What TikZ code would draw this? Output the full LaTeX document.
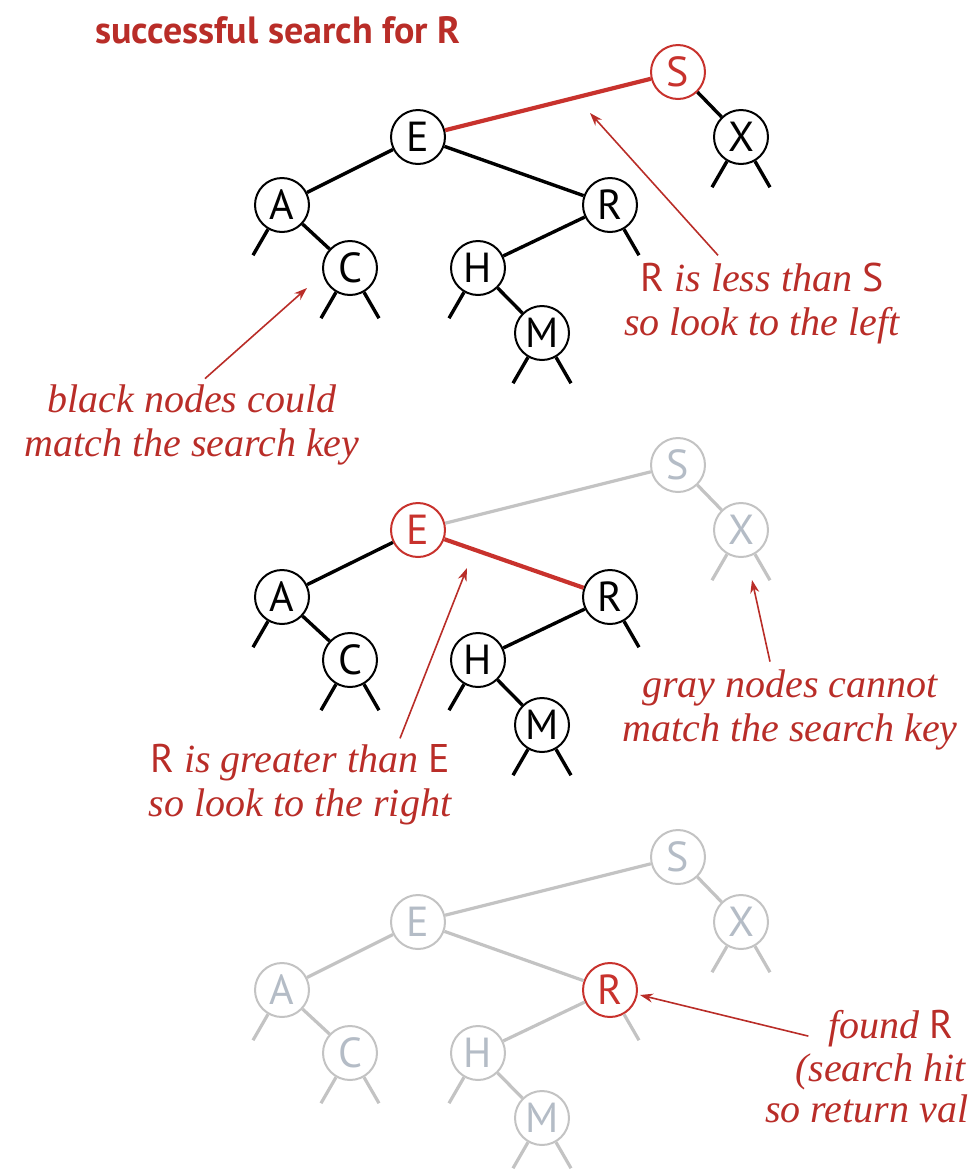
\documentclass[tikz,border=0pt]{standalone}
\usepackage{fontspec}
\newfontfamily\nodef{PT Sans}
\newfontfamily\annf{Liberation Serif}
\usetikzlibrary{arrows.meta,calc}
\definecolor{rd}{RGB}{185,45,40}
\definecolor{rdn}{RGB}{200,50,45}
\definecolor{gy}{RGB}{195,195,195}
\definecolor{gyt}{RGB}{180,188,198}
\newcommand\keyL[1]{{\nodef\upshape #1}}
\begin{document}
\begin{tikzpicture}[x=1pt,y=1pt,
 bn/.style={circle,draw=black,line width=2pt,fill=white,minimum size=54pt,inner sep=0pt,font=\nodef\fontsize{42}{42}\selectfont,text=black},
 rn/.style={bn,draw=rdn,text=rdn},
 gn/.style={bn,draw=gy,text=gyt},
 be/.style={line width=3.4pt,black},
 re/.style={line width=4.2pt,rdn},
 ge/.style={line width=3.2pt,gy},
 arr/.style={rd,line width=1.6pt,-{Stealth[length=13pt,width=9pt]}},
 anno/.style={text=rd,font=\annf\itshape\fontsize{40}{44}\selectfont,align=center,inner sep=0pt},
]
\useasboundingbox (0,0) rectangle (971,-1176);
% title
\node[text=rd,font=\nodef\bfseries\fontsize{38}{38}\selectfont,anchor=west,inner sep=0pt] (title) at (95,-30) {successful search for R};

% ---------- tree 1
\node[rn] (S1) at (678,-72) {S};
\node[bn] (X1) at (741,-137) {X};
\node[bn] (E1) at (418,-137) {E};
\node[bn] (A1) at (282,-205) {A};
\node[bn] (R1) at (610,-205) {R};
\node[bn] (C1) at (350,-268) {C};
\node[bn] (H1) at (478,-268) {H};
\node[bn] (M1) at (542,-333) {M};
\draw[re] (S1) -- (E1);
\draw[be] (S1) -- (X1);
\draw[be] (E1) -- (A1);
\draw[be] (E1) -- (R1);
\draw[be] (A1) -- (C1);
\draw[be] (R1) -- (H1);
\draw[be] (H1) -- (M1);
\draw[be] (X1.-120) -- ++(-120:30);
\draw[be] (X1.-60) -- ++(-60:30);
\draw[be] (A1.-120) -- ++(-120:30);
\draw[be] (C1.-120) -- ++(-120:30);
\draw[be] (C1.-60) -- ++(-60:30);
\draw[be] (R1.-60) -- ++(-60:30);
\draw[be] (H1.-120) -- ++(-120:30);
\draw[be] (M1.-120) -- ++(-120:30);
\draw[be] (M1.-60) -- ++(-60:30);

% ---------- tree 2
\node[gn] (S2) at (678,-465) {S};
\node[gn] (X2) at (741,-530) {X};
\node[rn] (E2) at (418,-530) {E};
\node[bn] (A2) at (282,-597) {A};
\node[bn] (R2) at (610,-597) {R};
\node[bn] (C2) at (350,-660) {C};
\node[bn] (H2) at (478,-660) {H};
\node[bn] (M2) at (542,-725) {M};
\draw[ge] (S2) -- (E2);
\draw[ge] (S2) -- (X2);
\draw[be] (E2) -- (A2);
\draw[re] (E2) -- (R2);
\draw[be] (A2) -- (C2);
\draw[be] (R2) -- (H2);
\draw[be] (H2) -- (M2);
\draw[ge] (X2.-120) -- ++(-120:30);
\draw[ge] (X2.-60) -- ++(-60:30);
\draw[be] (A2.-120) -- ++(-120:30);
\draw[be] (C2.-120) -- ++(-120:30);
\draw[be] (C2.-60) -- ++(-60:30);
\draw[be] (R2.-60) -- ++(-60:30);
\draw[be] (H2.-120) -- ++(-120:30);
\draw[be] (M2.-120) -- ++(-120:30);
\draw[be] (M2.-60) -- ++(-60:30);

% ---------- tree 3
\node[gn] (S3) at (678,-857) {S};
\node[gn] (X3) at (741,-922) {X};
\node[gn] (E3) at (418,-922) {E};
\node[gn] (A3) at (282,-990) {A};
\node[rn] (R3) at (610,-990) {R};
\node[gn] (C3) at (350,-1053) {C};
\node[gn] (H3) at (478,-1053) {H};
\node[gn] (M3) at (542,-1118) {M};
\draw[ge] (S3) -- (E3);
\draw[ge] (S3) -- (X3);
\draw[ge] (E3) -- (A3);
\draw[ge] (E3) -- (R3);
\draw[ge] (A3) -- (C3);
\draw[ge] (R3) -- (H3);
\draw[ge] (H3) -- (M3);
\draw[ge] (X3.-120) -- ++(-120:30);
\draw[ge] (X3.-60) -- ++(-60:30);
\draw[ge] (A3.-120) -- ++(-120:30);
\draw[ge] (C3.-120) -- ++(-120:30);
\draw[ge] (C3.-60) -- ++(-60:30);
\draw[ge] (R3.-60) -- ++(-60:30);
\draw[ge] (H3.-120) -- ++(-120:30);
\draw[ge] (M3.-120) -- ++(-120:30);
\draw[ge] (M3.-60) -- ++(-60:30);

% ---------- annotations
\node[anno] (n1) at (762,-304) {\keyL{R} is less than \keyL{S}\\so look to the left};
\node[anno] (n2) at (192,-425) {black nodes could\\match the search key};
\node[anno] (n3) at (790,-710) {gray nodes cannot\\match the search key};
\node[anno] (n4) at (300,-785) {\keyL{R} is greater than \keyL{E}\\so look to the right};
\node[anno,anchor=base] (n5a) at (891,-1038) {found \keyL{R}};
\node[anno,anchor=base west] (n5b) at (795,-1081) {(search hit};
\node[anno,anchor=base west] (n5c) at (765,-1122) {so return val};

\coordinate (t1) at (590,-113);
\coordinate (t2) at (307,-288);
\coordinate (t3) at (752,-580);
\coordinate (t4) at (467,-568);
\coordinate (t5) at (640,-995);
\draw[arr] ($(n1.north)+(-44,8)$) -- (t1);
\draw[arr] ($(n2.north)+(13,6)$) -- (t2);
\draw[arr] ($(n3.north)+(-20,8)$) -- (t3);
\draw[arr] ($(n4.north)+(100,6)$) -- (t4);
\draw[arr] ($(n5a.west)+(-20,-8)$) -- (t5);
\end{tikzpicture}
\end{document}
